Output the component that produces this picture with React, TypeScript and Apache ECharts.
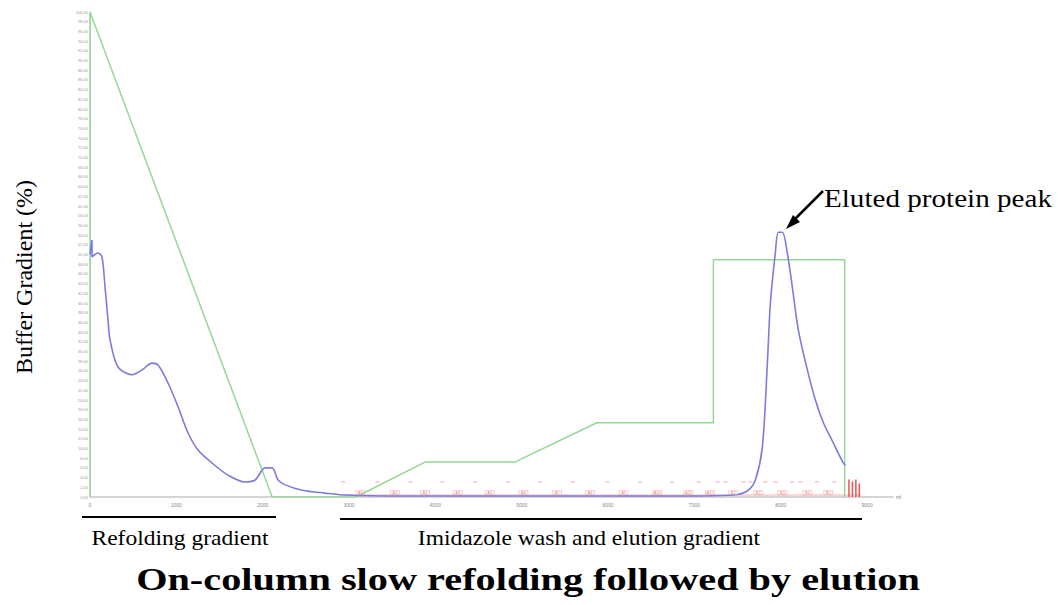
import React, { useEffect, useRef } from "react";
import * as echarts from "echarts";

// Buffer gradient (green) — [volume, %]
const gradientX = [0, 0, 21.1, 30.8, 38.8, 49.2, 58.7, 72.2, 72.2, 87.4, 87.4];
const gradientY = [0, 100, 0, 0, 7.2, 7.2, 15.3, 15.3, 48.9, 48.9, 0];

// UV absorbance trace (blue)
const uvX = [0.0, 0.23, 0.23, 0.93, 1.39, 1.74, 2.09, 2.32, 3.24, 4.87, 6.03, 7.18, 7.88, 9.04, 10.2, 11.36, 12.51, 14.14, 15.99, 17.96, 19.12, 20.28, 21.09, 21.78, 22.6, 24.57, 27.23, 29.55, 35.9, 50.0, 70.7, 75.0, 76.25, 77.06, 77.87, 78.45, 78.8, 79.37, 79.72, 80.19, 80.76, 81.34, 82.04, 83.08, 84.01, 84.94, 86.1, 87.25, 87.49];
const uvY = [50.0, 53.0, 49.5, 50.3, 49.5, 43.3, 36.5, 32.4, 26.8, 25.2, 26.2, 27.6, 27.2, 23.5, 18.6, 13.2, 9.7, 7.0, 4.5, 3.1, 3.5, 6.0, 6.0, 3.5, 2.5, 1.4, 0.8, 0.4, 0.2, 0.2, 0.2, 0.5, 1.4, 3.5, 10.3, 27.6, 40.0, 50.3, 54.6, 54.6, 50.3, 43.3, 34.4, 26.2, 20.0, 15.3, 11.1, 7.0, 6.6];

// Fraction collector marks (red)
const fractionTickX = [29.3, 33.3, 37.1, 40.8, 44.6, 48.4, 52.1, 55.9, 59.9, 63.7, 67.4, 70.5, 72.7, 73.6, 75.7, 76.5, 78.2, 79.4, 81.3, 82.3, 84.2, 86.2];
const fractionLabelX = [31.3, 35.3, 38.8, 42.6, 46.3, 50.2, 54.1, 57.9, 61.8, 65.7, 69.3, 71.8, 74.5, 77.4, 80.2, 83.1, 85.5];
const fractionLabels = ["A1", "A2", "A3", "A4", "A5", "A6", "A7", "A8", "A9", "A10", "A11", "A12", "B1", "B2", "B3", "B4", "B5"];
const endBarsX = [87.9, 88.3, 88.7, 89.1];
const endBarsH = [3.6, 3.2, 3.6, 2.8];

const xTicks = [0, 10, 20, 30, 40, 50, 60, 70, 80, 90];

export default function App() {
  const ref = useRef<HTMLDivElement>(null);
  useEffect(() => {
    if (!ref.current) return;
    const chart = echarts.init(ref.current, undefined, { renderer: "svg" });
    const serif = "Liberation Serif";
    const barData: any[] = [];
    endBarsX.forEach((x, i) => {
      barData.push([x, 0], [x, endBarsH[i]], "-");
    });
    chart.setOption({
      animation: false,
      backgroundColor: "#ffffff",
      grid: { left: 90, right: 165, top: 12, bottom: 108, containLabel: false },
      xAxis: {
        type: "value",
        min: 0,
        max: 93,
        interval: 10,
        name: "ml",
        nameLocation: "end",
        nameGap: 3,
        nameTextStyle: { fontSize: 5, color: "#777" },
        axisLine: { show: true, lineStyle: { color: "#c8c8c8", width: 1.5 } },
        axisTick: { show: false },
        splitLine: { show: false },
        axisLabel: {
          fontSize: 5,
          color: "#888",
          margin: 5,
          formatter: (v: number) => (xTicks.includes(v) ? (v * 100).toFixed(0) : ""),
        },
      },
      yAxis: {
        type: "value",
        min: 0,
        max: 100,
        interval: 2,
        axisLine: { show: true, lineStyle: { color: "#d0d0d0" } },
        axisTick: { show: false },
        splitLine: { show: false },
        axisLabel: {
          fontSize: 4,
          color: "#999",
          margin: 2,
          formatter: (v: number) => v.toFixed(2),
        },
      },
      series: [
        {
          type: "line",
          name: "gradient",
          data: gradientX.map((x, i) => [x, gradientY[i]]),
          showSymbol: false,
          lineStyle: { color: "#94d894", width: 1.5 },
          z: 2,
        },
        {
          type: "line",
          name: "UV",
          data: uvX.map((x, i) => [x, uvY[i]]),
          showSymbol: false,
          smooth: 0.3,
          lineStyle: { color: "#7b7be0", width: 1.6 },
          z: 3,
        },
        {
          type: "line",
          name: "fraction baseline",
          data: [[29.3, 0.4], [89.3, 0.4]],
          showSymbol: false,
          lineStyle: { color: "#f4b0b0", width: 1 },
          z: 1,
        },
        {
          type: "scatter",
          name: "fraction ticks",
          data: fractionTickX.map((x) => [x, 3.1]),
          symbol: "rect",
          symbolSize: [4, 1],
          itemStyle: { color: "#f09090" },
          z: 4,
        },
        {
          type: "scatter",
          name: "fractions",
          data: fractionLabelX.map((x, i) => [x, 0.9, fractionLabels[i]]),
          symbol: "rect",
          symbolSize: [9, 4],
          itemStyle: { color: "rgba(0,0,0,0)", borderColor: "#f0a0a0", borderWidth: 0.6 },
          label: {
            show: true,
            position: "inside",
            fontSize: 4,
            color: "#e06060",
            formatter: (p: any) => p.data[2],
          },
          z: 4,
        },
        {
          type: "line",
          name: "end marks",
          data: barData,
          showSymbol: false,
          connectNulls: false,
          lineStyle: { color: "#f05050", width: 1.5 },
          z: 4,
        },
      ],
      graphic: [
        {
          type: "text",
          x: 24,
          y: 277,
          rotation: Math.PI / 2,
          style: { text: "Buffer Gradient (%)", fontFamily: serif, fontSize: 24, fill: "#000", textAlign: "center", textVerticalAlign: "middle" },
        },
        { type: "line", shape: { x1: 82, y1: 517, x2: 276, y2: 517 }, style: { stroke: "#000", lineWidth: 2 } },
        { type: "line", shape: { x1: 340, y1: 519, x2: 862, y2: 519 }, style: { stroke: "#000", lineWidth: 2 } },
        {
          type: "text",
          x: 180,
          y: 538,
          scaleX: 1.07,
          style: { text: "Refolding gradient", fontFamily: serif, fontSize: 22, fill: "#000", textAlign: "center", textVerticalAlign: "middle" },
        },
        {
          type: "text",
          x: 589,
          y: 538,
          scaleX: 1.07,
          style: { text: "Imidazole wash and elution gradient", fontFamily: serif, fontSize: 22, fill: "#000", textAlign: "center", textVerticalAlign: "middle" },
        },
        {
          type: "text",
          x: 528,
          y: 580,
          scaleX: 1.3,
          style: { text: "On-column slow refolding followed by elution", fontFamily: serif, fontSize: 31, fontWeight: "bold", fill: "#000", textAlign: "center", textVerticalAlign: "middle" },
        },
        {
          type: "text",
          x: 824,
          y: 198,
          scaleX: 1.12,
          style: { text: "Eluted protein peak", fontFamily: serif, fontSize: 26, fill: "#000", textAlign: "left", textVerticalAlign: "middle" },
        },
        { type: "line", shape: { x1: 823, y1: 191, x2: 795, y2: 219 }, style: { stroke: "#000", lineWidth: 2.5 } },
        { type: "polygon", shape: { points: [[786, 229], [800, 222], [793, 215]] }, style: { fill: "#000" } },
      ],
    });
    return () => chart.dispose();
  }, []);
  return <div ref={ref} style={{ position: "fixed", left: 0, top: 0, width: 1058, height: 605, background: "#fff" }} />;
}
